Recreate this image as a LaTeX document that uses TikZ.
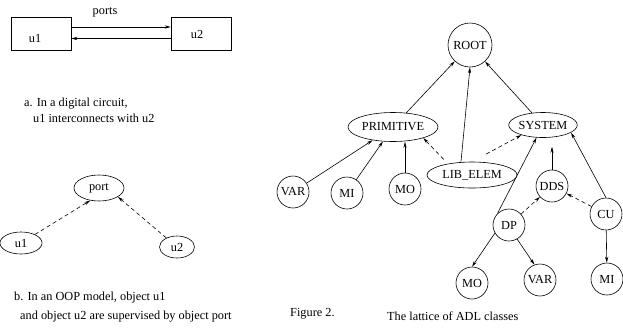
\documentclass[tikz,border=0pt]{standalone}
\usepackage{fontspec}
\setmainfont{Liberation Serif}
\usetikzlibrary{shapes.geometric,arrows.meta}
\begin{document}
\begin{tikzpicture}[x=1pt,y=-1pt,
 every node/.style={font=\fontsize{12.3}{14}\selectfont},
 circ/.style={draw,circle,minimum size=32pt,inner sep=0pt,line width=0.6pt},
 ell/.style={draw,ellipse,inner sep=0pt,line width=0.6pt},
 box/.style={draw,rectangle,inner sep=0pt,minimum width=60pt,minimum height=33pt,line width=0.6pt},
 txt/.style={anchor=west,inner sep=0pt},
 arr/.style={-{Stealth[length=6pt,width=3.2pt]},line width=0.6pt},
 darr/.style={arr,dash pattern=on 4pt off 3pt},
]
\useasboundingbox (0,0) rectangle (623,333);
% part a
\node[box] (u1) at (41,33.5) {};
\node[box] (u2) at (201,33.5) {};
\node (u1t) at (35,38) {u1};
\node (u2t) at (197,34) {u2};
\node (ports) at (105,12) {ports};
\draw[arr] ([yshift=6.5pt]u1.east) -- ([yshift=6.5pt]u2.west);
\draw[arr] ([yshift=-5pt]u2.west) -- ([yshift=-5pt]u1.east);
\node[txt] (capa1) at (24,104) {a. In a digital circuit,};
\node[txt] (capa2) at (33,118) {u1 interconnects with u2};
% part b
\node[ell,minimum width=50pt,minimum height=26pt] (port) at (99,188) {port};
\node[ell,minimum width=42pt,minimum height=22pt] (bu1) at (21,243) {u1};
\node[ell,minimum width=35pt,minimum height=22pt] (bu2) at (177,247) {u2};
\draw[darr] (bu1) -- (port.235);
\draw[darr] (bu2) -- (port.-25);
\node[txt] (capb1) at (14,298) {b. In an OOP model, object u1};
\node[txt] (capb2) at (20,317) {and object u2 are supervised by object port};
% lattice
\node[circ,minimum size=44pt] (root) at (470,45) {ROOT};
\node[ell,minimum width=90pt,minimum height=29pt] (prim) at (393,127) {PRIMITIVE};
\node[ell,minimum width=64pt,minimum height=25pt] (sys) at (543,125) {SYSTEM};
\node[ell,minimum width=90pt,minimum height=26pt] (lib) at (472,175) {LIB\_ELEM};
\node[circ] (var1) at (293,192) {VAR};
\node[circ] (mi1) at (347,193) {MI};
\node[circ] (mo1) at (405,189) {MO};
\node[circ] (dds) at (552,186) {DDS};
\node[circ] (dp) at (509,225) {DP};
\node[circ] (cu) at (606,214) {CU};
\node[circ] (mo2) at (472,283) {MO};
\node[circ] (var2) at (540,280) {VAR};
\node[circ] (mi2) at (607,279) {MI};
\draw[arr] (prim) -- (root);
\draw[arr] ([xshift=-11pt]lib.north) -- (root.south);
\draw[arr] (sys) -- (root);
\draw[arr] (var1) -- (prim);
\draw[arr] (mi1) -- (prim);
\draw[arr] (mo1) -- (mo1 |- prim.south);
\draw[darr,shorten <=6pt] (lib.155) -- (prim.-20);
\draw[darr,shorten <=16pt] (lib.north) -- (sys.-155);
\draw[arr] (dp.north west) -- (sys);
\draw[arr,shorten >=9pt] (dds) -- (dds |- sys.south);
\draw[arr] (cu.north) -- (sys.-15);
\draw[darr] (dp) -- (dds);
\draw[darr] (cu) -- (dds);
\draw[arr] (dp.210) -- (mo2.north);
\draw[arr] (dp.-60) -- (var2.110);
\draw[arr] (cu) -- (mi2);
\node[txt] (fig) at (290,314) {Figure 2.};
\node[txt] (figc) at (387,316) {The lattice of ADL classes};
\end{tikzpicture}
\end{document}
